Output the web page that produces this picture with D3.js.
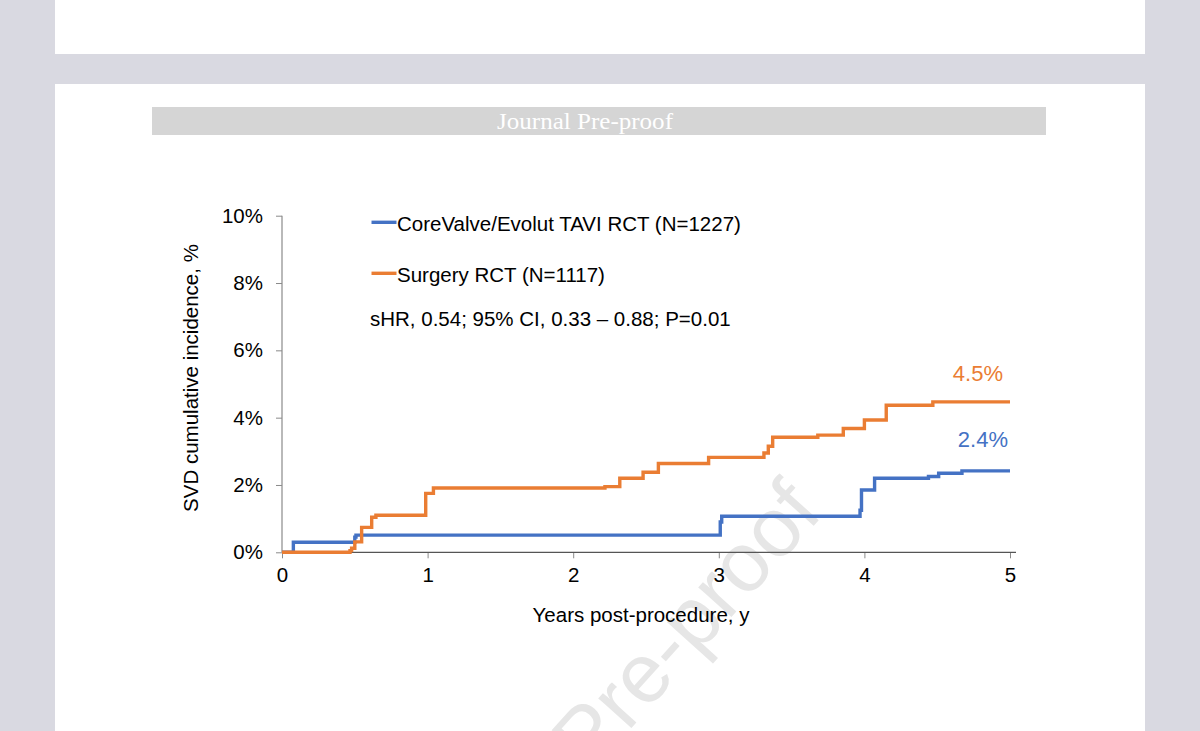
<!DOCTYPE html>
<html>
<head>
<meta charset="utf-8">
<script src="https://cdn.jsdelivr.net/npm/d3@7"></script>
<style>
  html, body { margin: 0; padding: 0; background: #d9d9e1; overflow: hidden; }
  svg { display: block; }
</style>
</head>
<body>
<svg id="chart" width="1200" height="731"></svg>
<script>
// ---- Data ----
const seriesNames = ["CoreValve/Evolut TAVI RCT (N=1227)", "Surgery RCT (N=1117)"];
const taviTimes  = [0, 0.078, 0.500, 0.508, 3.010, 3.020, 3.970, 3.980, 4.070, 4.440, 4.510, 4.670, 5.000];
const taviValues = [0, 0.30, 0.45, 0.51, 0.90, 1.07, 1.25, 1.85, 2.20, 2.25, 2.35, 2.42, 2.42];
const surgTimes  = [0, 0.467, 0.478, 0.500, 0.547, 0.616, 0.645, 0.987, 1.040, 2.218, 2.320, 2.480, 2.585, 2.930, 3.310, 3.340, 3.370, 3.680, 3.855, 4.000, 4.150, 4.470, 5.000];
const surgValues = [0, 0.05, 0.12, 0.31, 0.74, 1.04, 1.10, 1.75, 1.91, 1.95, 2.20, 2.38, 2.64, 2.82, 2.95, 3.15, 3.42, 3.48, 3.68, 3.93, 4.37, 4.47, 4.47];
const endLabels  = ["2.4%", "4.5%"];
const yTicks = [0, 2, 4, 6, 8, 10];
const xTicks = [0, 1, 2, 3, 4, 5];
const statText = "sHR, 0.54; 95% CI, 0.33 \u2013 0.88; P=0.01";
const xTitle = "Years post-procedure, y";
const yTitle = "SVD cumulative incidence, %";
const bannerText = "Journal Pre-proof";
const watermarkText = "Pre-proof";
const colors = ["#4472C4", "#EA7D33"];

const svg = d3.select("#chart");
const font = "'Liberation Sans', Arial, sans-serif";

// ---- Page decoration ----
svg.append("rect").attr("x", 0).attr("y", 0).attr("width", 1200).attr("height", 731).attr("fill", "#d9d9e1");
svg.append("rect").attr("x", 55).attr("y", 0).attr("width", 1090).attr("height", 54).attr("fill", "#ffffff");
svg.append("rect").attr("x", 55).attr("y", 84).attr("width", 1090).attr("height", 660).attr("fill", "#ffffff");
svg.append("rect").attr("x", 152).attr("y", 107).attr("width", 894).attr("height", 28).attr("fill", "#d5d5d5");
svg.append("text").attr("x", 497).attr("y", 128.5)
  .attr("font-family", "'Liberation Serif', 'Times New Roman', serif")
  .attr("font-size", 23).attr("fill", "#ffffff")
  .attr("textLength", 176).attr("lengthAdjust", "spacingAndGlyphs")
  .text(bannerText);

// ---- Scales ----
const x = d3.scaleLinear().domain([0, 5]).range([282, 1010]);
const y = d3.scaleLinear().domain([0, 10]).range([552.3, 215.7]);

// ---- Watermark (behind chart) ----
svg.append("text")
  .attr("transform", "translate(590,774) rotate(-48)")
  .attr("font-family", font).attr("font-size", 84)
  .attr("fill", "#e6e6e6").attr("text-anchor", "start")
  .text(watermarkText);

// ---- Axes ----
const axisColor = "#8a8a8a";
const yAxis = d3.axisLeft(y).tickValues(yTicks).tickFormat(d => d + "%").tickSize(6).tickPadding(13).tickSizeOuter(0);
const gy = svg.append("g").attr("transform", "translate(282,0)").call(yAxis);
gy.select(".domain").remove();
gy.selectAll(".tick line").attr("stroke", axisColor);
gy.selectAll(".tick text").attr("font-family", font).attr("font-size", 20.5).attr("fill", "#000");
svg.append("line").attr("x1", 282).attr("x2", 282).attr("y1", y(10)).attr("y2", y(0))
  .attr("stroke", axisColor).attr("stroke-width", 1.2);

const xAxis = d3.axisBottom(x).tickValues(xTicks).tickFormat(d3.format("d")).tickSize(6).tickPadding(9).tickSizeOuter(0);
const gx = svg.append("g").attr("transform", "translate(0," + y(0) + ")").call(xAxis);
gx.select(".domain").remove();
gx.selectAll(".tick line").attr("stroke", axisColor);
gx.selectAll(".tick text").attr("font-family", font).attr("font-size", 20.5).attr("fill", "#000");
svg.append("line").attr("x1", x(0)).attr("x2", x(5) + 6).attr("y1", y(0)).attr("y2", y(0))
  .attr("stroke", "#555").attr("stroke-width", 1.2);

// axis titles
svg.append("text").attr("x", 641).attr("y", 621.5).attr("text-anchor", "middle")
  .attr("font-family", font).attr("font-size", 20.5).attr("fill", "#000").text(xTitle);
svg.append("text").attr("transform", "translate(198,378) rotate(-90)").attr("text-anchor", "middle")
  .attr("font-family", font).attr("font-size", 20.5).attr("fill", "#000").text(yTitle);

// ---- Step lines ----
const line = d3.line().x(d => x(d[0])).y(d => y(d[1])).curve(d3.curveStepAfter);
const series = [d3.zip(taviTimes, taviValues), d3.zip(surgTimes, surgValues)];
series.forEach((s, i) => {
  svg.append("path").datum(s).attr("d", line).attr("fill", "none")
    .attr("stroke", colors[i]).attr("stroke-width", 3.4).attr("stroke-linejoin", "miter");
});

// end labels
svg.append("text").attr("x", 1008).attr("y", 446.5).attr("text-anchor", "end")
  .attr("font-family", font).attr("font-size", 22).attr("fill", colors[0]).text(endLabels[0]);
svg.append("text").attr("x", 1003).attr("y", 381).attr("text-anchor", "end")
  .attr("font-family", font).attr("font-size", 22).attr("fill", colors[1]).text(endLabels[1]);

// ---- Legend ----
const legendY = [222.3, 273.3];
seriesNames.forEach((n, i) => {
  svg.append("line").attr("x1", 371.5).attr("x2", 396.5).attr("y1", legendY[i]).attr("y2", legendY[i])
    .attr("stroke", colors[i]).attr("stroke-width", 3.4);
  svg.append("text").attr("x", 397).attr("y", legendY[i] + 9)
    .attr("font-family", font).attr("font-size", 20.5).attr("fill", "#000").text(n);
});
svg.append("text").attr("x", 370).attr("y", 325.7)
  .attr("font-family", font).attr("font-size", 20.5).attr("fill", "#000").text(statText);
</script>
</body>
</html>
